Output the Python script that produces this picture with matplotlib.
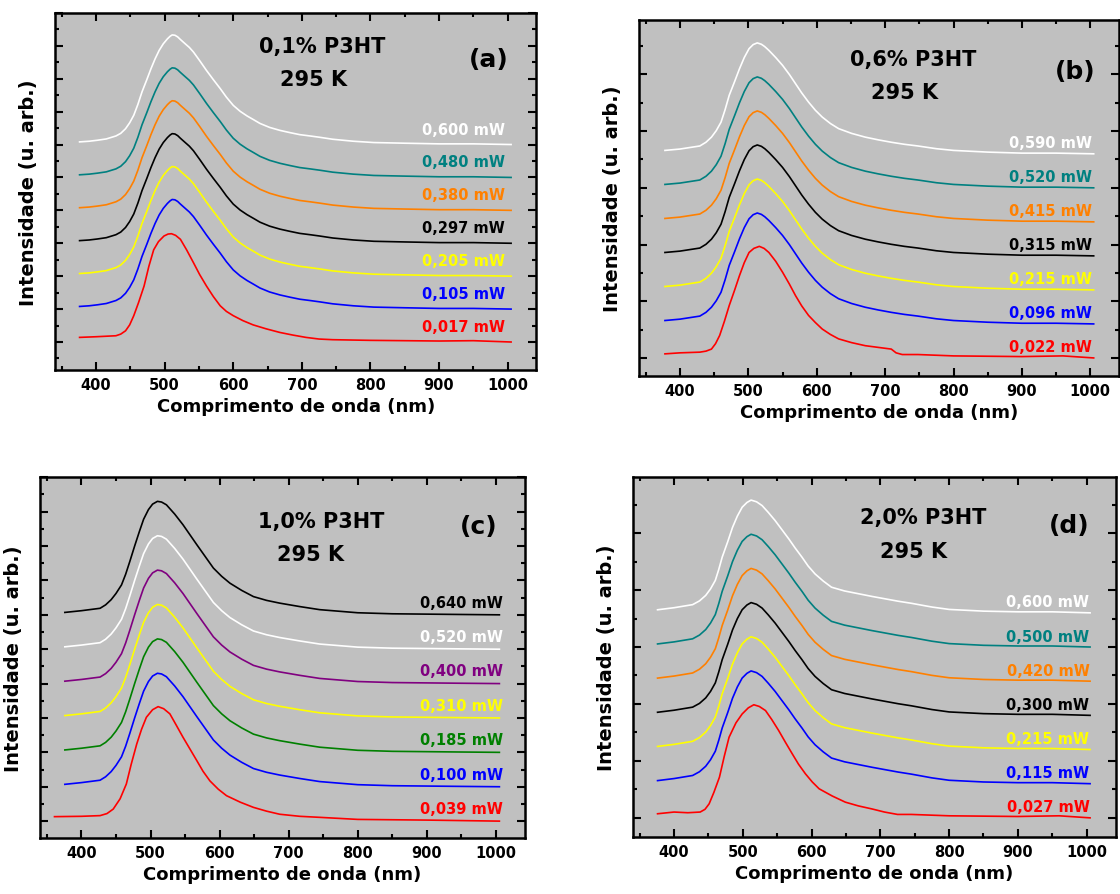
import matplotlib
matplotlib.use("Agg")
import matplotlib.pyplot as plt
from matplotlib.ticker import MultipleLocator

plt.rcParams["font.family"] = ["DejaVu Sans"]
plt.rcParams["font.weight"] = "bold"

# curve shapes (height above each curve's own baseline)
# "hi" = upper curves, "lo" = lowest power (red) curve
wl_a_hi = [376, 390, 402, 415, 429, 436, 443, 449, 455, 461, 467, 474, 480, 486, 492, 498, 504, 508,
           511, 515, 519, 523, 530, 536, 542, 551, 561, 571, 581, 590, 600, 610, 620, 630, 639, 653,
           668, 683, 697, 712, 726, 745, 775, 805, 850, 900, 950, 1005]
int_a_hi = [0.08, 0.10, 0.13, 0.17, 0.26, 0.34, 0.48, 0.66, 0.89, 1.22, 1.60, 1.97, 2.30, 2.60, 2.86,
            3.06, 3.21, 3.29, 3.33, 3.32, 3.27, 3.19, 3.06, 2.95, 2.81, 2.55, 2.25, 1.97, 1.70, 1.44,
            1.19, 1.01, 0.87, 0.75, 0.64, 0.52, 0.43, 0.36, 0.30, 0.26, 0.22, 0.16, 0.10, 0.06, 0.04,
            0.02, 0.02, 0.0]
wl_a_lo = [376, 400, 429, 436, 443, 449, 455, 462, 470, 477, 484, 491, 499, 505, 510, 516, 523, 532,
           542, 551, 561, 571, 581, 590, 600, 614, 629, 648, 668, 687, 706, 725, 745, 800, 900, 950,
           1005]
int_a_lo = [0.14, 0.16, 0.19, 0.24, 0.34, 0.52, 0.80, 1.20, 1.70, 2.30, 2.80, 3.05, 3.22, 3.28, 3.29,
            3.24, 3.12, 2.80, 2.41, 2.05, 1.70, 1.38, 1.10, 0.93, 0.80, 0.65, 0.52, 0.40, 0.29, 0.21,
            0.14, 0.09, 0.07, 0.05, 0.03, 0.04, 0.0]

wl_b_hi = [378, 400, 429, 438, 446, 453, 460, 466, 472, 480, 487, 494, 501, 507, 513, 519, 524, 530,
           540, 550, 560, 569, 578, 588, 598, 608, 620, 632, 651, 671, 690, 709, 728, 748, 775, 800,
           850, 900, 950, 1005]
int_b_hi = [0.10, 0.14, 0.23, 0.34, 0.49, 0.68, 0.93, 1.30, 1.72, 2.13, 2.50, 2.83, 3.09, 3.21, 3.26,
            3.22, 3.15, 3.04, 2.83, 2.60, 2.33, 2.06, 1.79, 1.52, 1.28, 1.08, 0.89, 0.74, 0.60, 0.49,
            0.41, 0.34, 0.28, 0.23, 0.15, 0.10, 0.05, 0.02, 0.02, 0.0]
wl_b_lo = [378, 400, 429, 438, 446, 452, 458, 465, 472, 480, 487, 494, 501, 508, 516, 523, 530, 540,
           550, 560, 569, 578, 588, 598, 608, 620, 632, 651, 671, 690, 709, 716, 725, 748, 800, 900,
           960, 1005]
int_b_lo = [0.12, 0.15, 0.17, 0.20, 0.26, 0.42, 0.66, 1.08, 1.54, 2.00, 2.42, 2.80, 3.10, 3.22, 3.28,
            3.22, 3.10, 2.84, 2.52, 2.17, 1.83, 1.53, 1.25, 1.04, 0.85, 0.69, 0.56, 0.45, 0.36, 0.31,
            0.26, 0.15, 0.10, 0.10, 0.06, 0.04, 0.06, 0.0]

wl_c_hi = [376, 400, 427, 435, 443, 450, 458, 464, 470, 477, 484, 490, 497, 503, 510, 516, 523, 535,
           547, 557, 567, 579, 591, 603, 615, 632, 649, 668, 687, 716, 745, 800, 850, 900, 950, 1005]
int_c_hi = [0.07, 0.12, 0.19, 0.29, 0.44, 0.62, 0.87, 1.18, 1.55, 2.00, 2.43, 2.78, 3.06, 3.22, 3.30,
            3.28, 3.20, 2.93, 2.62, 2.33, 2.04, 1.70, 1.36, 1.12, 0.92, 0.71, 0.53, 0.42, 0.34, 0.24,
            0.15, 0.06, 0.03, 0.02, 0.01, 0.0]
wl_c_lo = [361, 400, 427, 437, 446, 456, 465, 472, 480, 487, 494, 503, 511, 519, 528, 537, 547, 557,
           567, 576, 586, 598, 610, 630, 649, 668, 687, 716, 745, 800, 900, 1005]
int_c_lo = [0.13, 0.14, 0.16, 0.22, 0.35, 0.65, 1.08, 1.65, 2.24, 2.67, 3.02, 3.24, 3.33, 3.27, 3.12,
            2.80, 2.44, 2.10, 1.76, 1.45, 1.17, 0.93, 0.74, 0.55, 0.40, 0.29, 0.20, 0.14, 0.11, 0.05,
            0.03, 0.0]

wl_d_hi = [376, 400, 427, 437, 446, 453, 460, 465, 470, 478, 485, 492, 499, 506, 512, 520, 528, 537,
           547, 557, 567, 576, 586, 595, 605, 617, 629, 648, 668, 688, 707, 726, 745, 775, 800, 850,
           900, 950, 1005]
int_d_hi = [0.09, 0.15, 0.24, 0.35, 0.51, 0.70, 0.95, 1.27, 1.63, 2.08, 2.50, 2.83, 3.09, 3.23, 3.30,
            3.25, 3.14, 2.94, 2.70, 2.43, 2.16, 1.90, 1.63, 1.37, 1.14, 0.93, 0.75, 0.64, 0.56, 0.48,
            0.41, 0.34, 0.28, 0.17, 0.10, 0.05, 0.03, 0.03, 0.0]
wl_d_lo = [376, 400, 420, 438, 445, 451, 458, 466, 473, 480, 490, 499, 508, 516, 524, 533, 542, 552,
           562, 572, 581, 591, 601, 611, 630, 649, 668, 688, 706, 725, 745, 800, 900, 960, 1005]
int_d_lo = [0.12, 0.17, 0.15, 0.17, 0.25, 0.41, 0.75, 1.19, 1.80, 2.36, 2.78, 3.04, 3.22, 3.31, 3.26,
            3.14, 2.88, 2.56, 2.21, 1.87, 1.57, 1.29, 1.05, 0.85, 0.64, 0.46, 0.35, 0.26, 0.17, 0.10,
            0.10, 0.06, 0.04, 0.06, 0.0]

# powers, bottom curve first
powers_a = ["0,017", "0,105", "0,205", "0,297", "0,380", "0,480", "0,600"]
powers_b = ["0,022", "0,096", "0,215", "0,315", "0,415", "0,520", "0,590"]
powers_c = ["0,039", "0,100", "0,185", "0,310", "0,400", "0,520", "0,640"]
powers_d = ["0,027", "0,115", "0,215", "0,300", "0,420", "0,500", "0,600"]

colors_abd = ["#ff0000", "#0000ff", "#ffff00", "#000000", "#ff8000", "#008080", "#ffffff"]
colors_c = ["#ff0000", "#0000ff", "#008000", "#ffff00", "#800080", "#ffffff", "#000000"]

samples = ["0,1% P3HT", "0,6% P3HT", "1,0% P3HT", "2,0% P3HT"]
letters = ["(a)", "(b)", "(c)", "(d)"]

panels = [
    dict(rect=[0.049, 0.5855, 0.430, 0.399], ylim=(-0.85, 10.0), ymaj=1.0,
         hi=(wl_a_hi, int_a_hi), lo=(wl_a_lo, int_a_lo), powers=powers_a, colors=colors_abd,
         lab_x=996, lab_dy=0.47, title_xy=(0.556, 0.908), temp_xy=(0.537, 0.815), let_xy=(0.901, 0.871)),
    dict(rect=[0.5705, 0.5788, 0.4286, 0.398], ylim=(-0.53, 9.94), ymaj=5 / 3,
         hi=(wl_b_hi, int_b_hi), lo=(wl_b_lo, int_b_lo), powers=powers_b, colors=colors_abd,
         lab_x=1002, lab_dy=0.33, title_xy=(0.572, 0.89), temp_xy=(0.553, 0.796), let_xy=(0.909, 0.857)),
    dict(rect=[0.0357, 0.0626, 0.433, 0.403], ylim=(-0.49, 10.0), ymaj=1.0,
         hi=(wl_c_hi, int_c_hi), lo=(wl_c_lo, int_c_lo), powers=powers_c, colors=colors_c,
         lab_x=1010, lab_dy=0.37, title_xy=(0.58, 0.88), temp_xy=(0.558, 0.788), let_xy=(0.904, 0.866)),
    dict(rect=[0.565, 0.0637, 0.431, 0.402], ylim=(-0.56, 9.97), ymaj=5 / 3,
         hi=(wl_d_hi, int_d_hi), lo=(wl_d_lo, int_d_lo), powers=powers_d, colors=colors_abd,
         lab_x=1004, lab_dy=0.32, title_xy=(0.601, 0.889), temp_xy=(0.582, 0.796), let_xy=(0.905, 0.866)),
]

fig = plt.figure(figsize=(11.2, 8.95), dpi=100)

for i, p in enumerate(panels):
    ax = fig.add_axes(p["rect"])
    ax.set_facecolor("#c0c0c0")
    for k, (pw, col) in enumerate(zip(p["powers"], p["colors"])):
        wl, inten = p["lo"] if k == 0 else p["hi"]
        ax.plot(wl, [v + k for v in inten], color=col, lw=1.2, solid_joinstyle="round")
        ax.text(p["lab_x"], k + p["lab_dy"], pw + " mW", color=col, ha="right", va="center",
                fontsize=10.5, fontweight="bold")

    ax.text(*p["title_xy"], samples[i], transform=ax.transAxes, ha="center", va="center",
            fontsize=15, fontweight="bold")
    ax.text(*p["temp_xy"], "295 K", transform=ax.transAxes, ha="center", va="center",
            fontsize=15, fontweight="bold")
    ax.text(*p["let_xy"], letters[i], transform=ax.transAxes, ha="center", va="center",
            fontsize=18, fontweight="bold")

    ax.set_xlim(340, 1042)
    ax.set_ylim(*p["ylim"])
    ax.xaxis.set_major_locator(MultipleLocator(100))
    ax.xaxis.set_minor_locator(MultipleLocator(50))
    ax.yaxis.set_major_locator(MultipleLocator(p["ymaj"]))
    ax.yaxis.set_minor_locator(MultipleLocator(p["ymaj"] / 2))
    ax.tick_params(which="both", direction="in", top=True, right=True, width=1.5)
    ax.tick_params(which="major", length=6)
    ax.tick_params(which="minor", length=3)
    ax.tick_params(axis="x", labelsize=10.5, pad=5)
    ax.tick_params(axis="y", labelleft=False)
    for lab in ax.get_xticklabels():
        lab.set_fontweight("bold")
    for s in ax.spines.values():
        s.set_linewidth(1.8)
    ax.set_xlabel("Comprimento de onda (nm)", fontsize=13, fontweight="bold", labelpad=4)
    ax.set_ylabel("Intensidade (u. arb.)", fontsize=14, fontweight="bold", labelpad=9)

fig.savefig("out.png", dpi=100)
